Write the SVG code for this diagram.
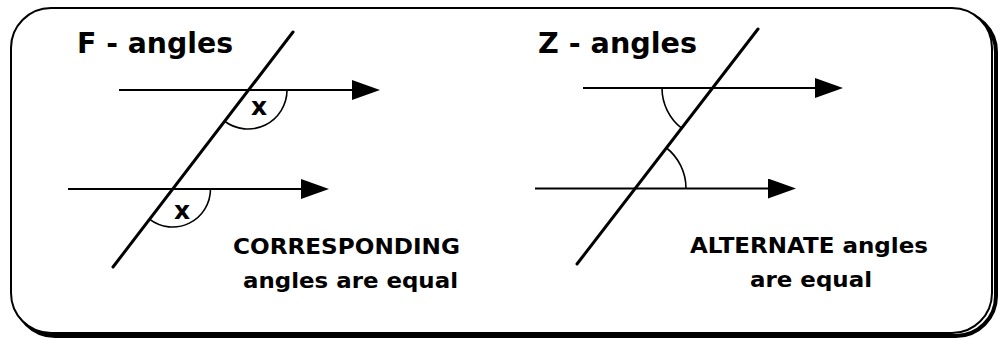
<svg xmlns="http://www.w3.org/2000/svg" width="1000" height="339" viewBox="0 0 1000 339">
<style>
.t{font-family:"DejaVu Sans","Liberation Sans",sans-serif;font-weight:bold;fill:#000}
.title{font-size:28px}
.cap{font-size:22px}
.mark{font-size:25px}
.ln{stroke:#000;stroke-width:2;fill:none}
.tr{stroke:#000;stroke-width:3;fill:none;stroke-linecap:round}
.arc{stroke:#000;stroke-width:1.6;fill:none}
</style>
<defs>
<marker id="ah" markerUnits="userSpaceOnUse" viewBox="0 0 28 20" refX="24" refY="10" markerWidth="28" markerHeight="20" orient="auto">
<path d="M0,0 L28,10 L0,20 Z" fill="#000"/>
</marker>
</defs>
<rect width="1000" height="339" fill="#fff"/>
<g id="frame">
<rect x="15" y="12" width="981" height="324" rx="40" fill="none" stroke="#000" stroke-width="4"/>
<rect x="11" y="8" width="981" height="325" rx="40" fill="#fff" stroke="#000" stroke-width="2"/>
</g>
<g id="panel-f">
<text class="t title" x="77" y="53" textLength="156" lengthAdjust="spacingAndGlyphs">F - angles</text>
<text class="t mark" x="259" y="115" text-anchor="middle">x</text>
<text class="t mark" x="182" y="219" text-anchor="middle">x</text>
<text class="t cap" x="233" y="254" textLength="227" lengthAdjust="spacingAndGlyphs">CORRESPONDING</text>
<text class="t cap" x="243" y="288" textLength="215" lengthAdjust="spacingAndGlyphs">angles are equal</text>
</g>
<g id="panel-z">
<text class="t title" x="538" y="53" textLength="159" lengthAdjust="spacingAndGlyphs">Z - angles</text>
<text class="t cap" x="690" y="253" textLength="238" lengthAdjust="spacingAndGlyphs">ALTERNATE angles</text>
<text class="t cap" x="750" y="287" textLength="122" lengthAdjust="spacingAndGlyphs">are equal</text>
</g>
<g id="connectors">
<line class="tr" x1="293" y1="32" x2="113" y2="267"/>
<line class="ln" x1="119" y1="90" x2="376" y2="90" marker-end="url(#ah)"/>
<line class="ln" x1="68" y1="189" x2="325" y2="189" marker-end="url(#ah)"/>
<path class="arc" d="M287,90 A39,39 0 0 1 224.3,121"/>
<path class="arc" d="M210.5,189 A38,38 0 0 1 149.4,219.2"/>
<line class="tr" x1="758" y1="29" x2="577" y2="264"/>
<line class="ln" x1="583" y1="88" x2="839" y2="88" marker-end="url(#ah)"/>
<line class="ln" x1="535" y1="188.5" x2="792" y2="188.5" marker-end="url(#ah)"/>
<path class="arc" d="M662,88 A51,51 0 0 0 681.6,128.2"/>
<path class="arc" d="M686,188.5 A52,52 0 0 0 666,147.5"/>
</g>
</svg>
